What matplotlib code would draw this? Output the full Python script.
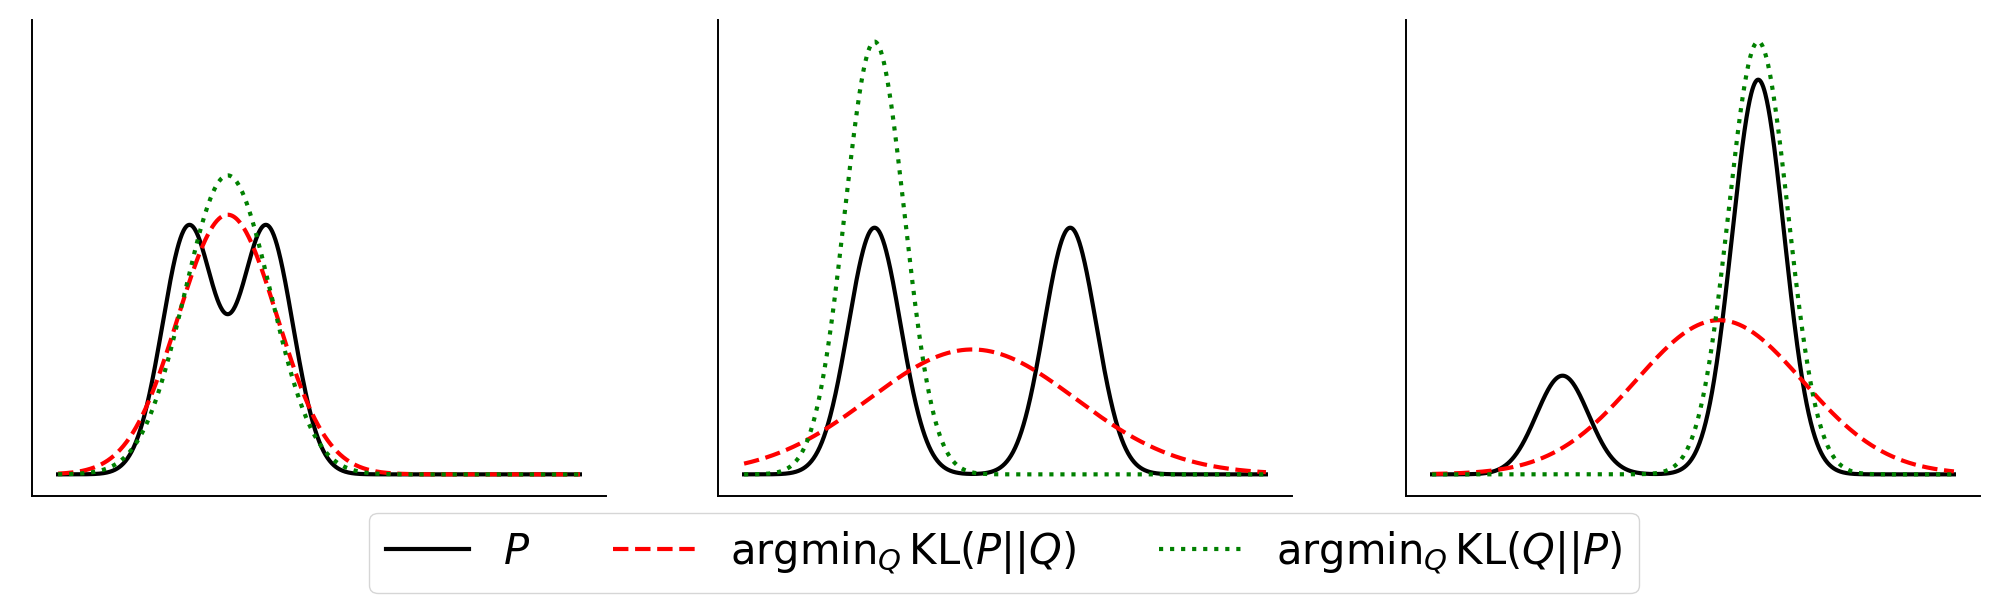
import numpy as np
import matplotlib
matplotlib.use("Agg")
import matplotlib.pyplot as plt

# ---- data ----
x_range = (-5.0, 15.0)
p_means = [[0.0, 3.0], [0.0, 7.5], [0.0, 7.5]]
p_weights = [[0.5, 0.5], [0.5, 0.5], [0.2, 0.8]]
p_sds = [[1.0, 1.0], [1.0, 1.0], [1.0, 1.0]]
fwd_means = [1.5, 3.75, 6.0]      # argmin_Q KL(P||Q)
fwd_sds = [1.9, 3.95, 3.2]
rev_means = [1.5, 0.0, 7.5]       # argmin_Q KL(Q||P)
rev_sds = [1.65, 1.14, 1.14]

labels = [r'$P$',
          r'$\mathrm{argmin}_Q\,\mathrm{KL}(P||Q)$',
          r'$\mathrm{argmin}_Q\,\mathrm{KL}(Q||P)$']


def normal_pdf(x, mu, sd):
    return np.exp(-0.5 * ((x - mu) / sd) ** 2) / (sd * np.sqrt(2 * np.pi))


x = np.linspace(x_range[0], x_range[1], 1000)

fig = plt.figure(figsize=(20, 6.15), dpi=100)
lefts = [0.016, 0.359, 0.703]
axes = []
for i, l in enumerate(lefts):
    ax = fig.add_axes([l, 0.1935, 0.287, 0.774],
                      sharey=axes[0] if axes else None)
    axes.append(ax)

lw = 3.0
handles = []
for i, ax in enumerate(axes):
    p = sum(w * normal_pdf(x, m, s)
            for w, m, s in zip(p_weights[i], p_means[i], p_sds[i]))
    q_fwd = normal_pdf(x, fwd_means[i], fwd_sds[i])
    q_rev = normal_pdf(x, rev_means[i], rev_sds[i])
    h1, = ax.plot(x, p, color='k', lw=lw, ls='-')
    h2, = ax.plot(x, q_fwd, color='r', lw=lw, ls='--')
    h3, = ax.plot(x, q_rev, color='g', lw=lw, ls=':')
    if i == 0:
        handles = [h1, h2, h3]
    ax.set_xticks([])
    ax.set_yticks([])
    for side in ('top', 'right'):
        ax.spines[side].set_visible(False)
    for side in ('left', 'bottom'):
        ax.spines[side].set_linewidth(1.4)

fig.legend(handles, labels, loc='lower center', ncol=3,
           bbox_to_anchor=(0.502, 0.0358), borderaxespad=0.0,
           fontsize=30)

fig.savefig('out.png', dpi=100)
